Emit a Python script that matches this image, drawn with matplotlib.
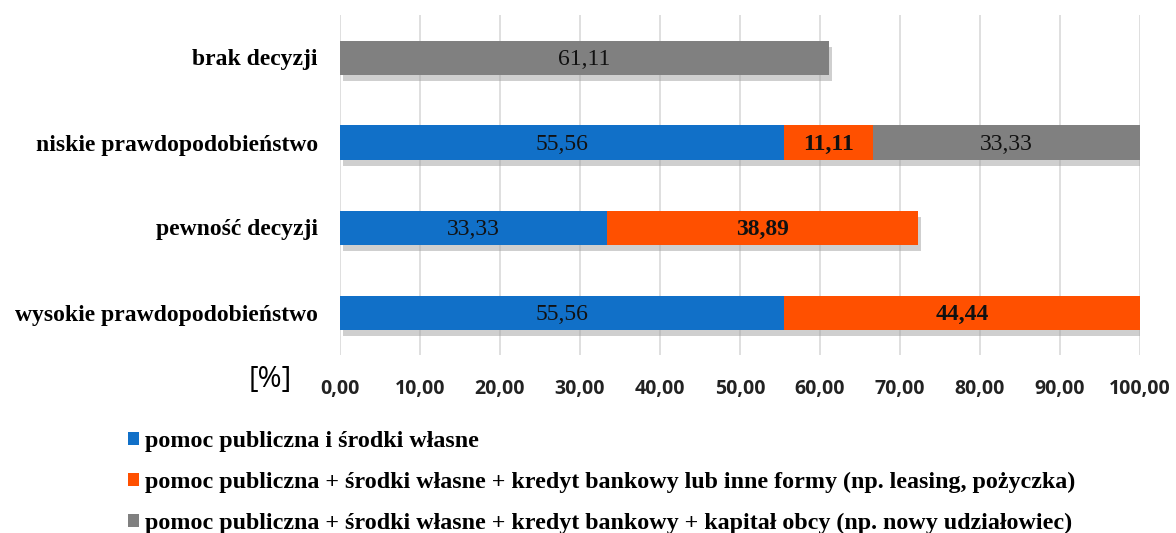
import matplotlib
matplotlib.use("Agg")
import matplotlib.pyplot as plt
import matplotlib.patheffects as pe
import numpy as np

categories = ["wysokie prawdopodobieństwo", "pewność decyzji",
              "niskie prawdopodobieństwo", "brak decyzji"]
series_names = ["pomoc publiczna i środki własne",
                "pomoc publiczna + środki własne + kredyt bankowy lub inne formy (np. leasing, pożyczka)",
                "pomoc publiczna + środki własne + kredyt bankowy + kapitał obcy (np. nowy udziałowiec)"]
blue_vals = [55.56, 33.33, 55.56, 0]
orange_vals = [44.44, 38.89, 11.11, 0]
gray_vals = [0, 0, 33.33, 61.11]
xticks = [0, 10, 20, 30, 40, 50, 60, 70, 80, 90, 100]

colors = ["#1170C8", "#FF5000", "#808080"]
label_bold = [False, True, False]

fig = plt.figure(figsize=(11.76, 5.33), dpi=100)
ax = fig.add_axes([340/1176, 1-355/533, 800/1176, 340/533])

y = np.arange(len(categories))
left = np.zeros(len(categories))
shadow = [pe.SimplePatchShadow(offset=(2, -5), shadow_rgbFace="#a0a0a0", alpha=0.5), pe.Normal()]
for vals, col, name, bold in zip([blue_vals, orange_vals, gray_vals], colors, series_names, label_bold):
    vals = np.array(vals)
    bars = ax.barh(y, vals, left=left, height=0.4, color=col, label=name, zorder=3)
    for b, v in zip(bars, vals):
        if v > 0:
            b.set_path_effects(shadow)
            ax.text(b.get_x() + b.get_width()/2, b.get_y() + b.get_height()/2 - 0.02,
                    f"{v:.2f}".replace(".", ","), ha="center", va="center",
                    family="Liberation Serif", fontsize=17,
                    fontweight="bold" if bold else "normal", color="#111111", zorder=5)
    left = left + vals

ax.set_xlim(0, 100)
ax.set_ylim(-0.5, 3.5)
ax.set_xticks(xticks)
ax.set_xticklabels([f"{t:.2f}".replace(".", ",") for t in xticks],
                   family="Open Sans", fontweight="bold", fontsize=14, color="#222222")
ax.tick_params(axis="both", length=0)
ax.set_yticks(y)
ax.set_yticklabels(categories, family="Liberation Serif", fontweight="bold", fontsize=17)
ax.tick_params(axis="x", pad=17)
ax.tick_params(axis="y", pad=16)
ax.grid(axis="x", color="#D9D9D9", linewidth=1.2, zorder=0)
for s in ax.spines.values():
    s.set_visible(False)

fig.text(270/1176, 1-380/533, "[%]", family="Open Sans", fontsize=21, va="center", ha="center")

leg = fig.legend(loc="upper left", bbox_to_anchor=(128/1176, 1-431/533), frameon=False,
                 prop={"family": "Liberation Serif", "weight": "bold", "size": 17.3},
                 handlelength=0.47, handleheight=0.47, handletextpad=0.25, labelspacing=0.82,
                 borderaxespad=0, borderpad=0)
for h in leg.legend_handles:
    h.set_path_effects([])

fig.savefig("out.png", dpi=100)
